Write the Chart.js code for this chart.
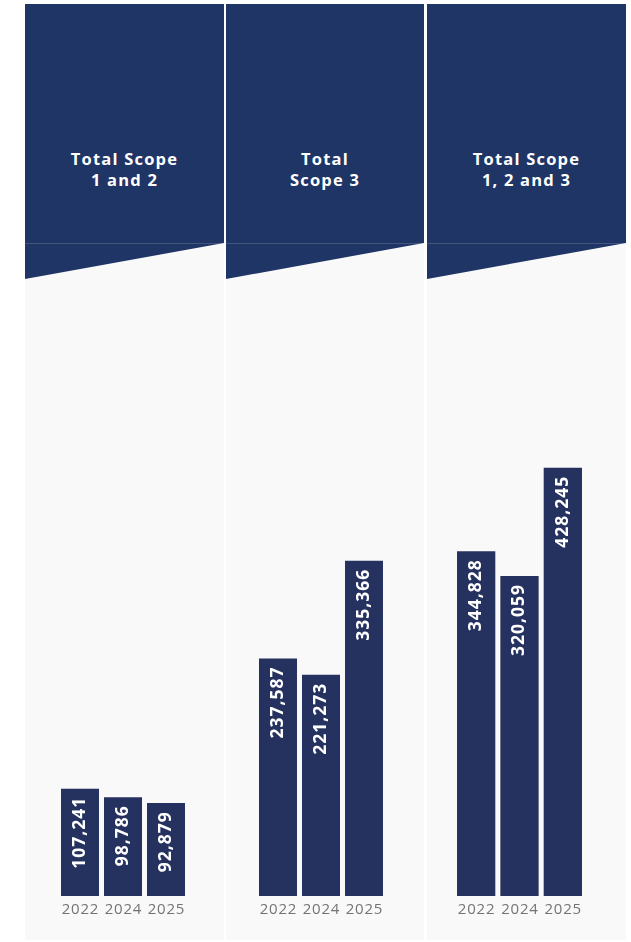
<!DOCTYPE html>
<html>
<head>
<meta charset="utf-8">
<script src="https://cdn.jsdelivr.net/npm/chart.js@4/dist/chart.umd.min.js"></script>
<style>
  body { margin: 0; background: #fff; width: 631px; height: 942px; position: relative; overflow: hidden; font-family: "Open Sans", sans-serif; }
  .panel { position: absolute; top: 4px; height: 936px; background: #f9f9f9; }
  .head { position: absolute; left: 0; top: 0; width: 100%; height: 275px; background: #1f3565;
          clip-path: polygon(0 0, 100% 0, 100% 239px, 0 275px); }
  .rule { position: absolute; left: 0; top: 239px; width: 100%; height: 1px; background: rgba(255,255,255,0.16); }
  .title { position: absolute; top: 144px; width: 100%; text-align: center; color: #fff; font-weight: 700; font-size: 16.5px; line-height: 21px; letter-spacing: 1.2px; }
  canvas { position: absolute; top: -4px; left: 0; }
</style>
</head>
<body>
<script>
const years = ['2022', '2024', '2025'];
const titles = [['Total Scope', '1 and 2'], ['Total', 'Scope 3'], ['Total Scope', '1, 2 and 3']];
const scope12 = [107241, 98786, 92879];
const scope3 = [237587, 221273, 335366];
const scope123 = [344828, 320059, 428245];
const seriesList = [scope12, scope3, scope123];

// panel boxes and where the bars sit inside each one
const panels = [
  { left: 25, width: 199, padL: 33.5, padR: 36.5 },
  { left: 226, width: 198, padL: 30.5, padR: 38.5 },
  { left: 427, width: 199, padL: 27.5, padR: 41.5 }
];

const barColor = '#25315f';

const labelPlugin = {
  id: 'labels',
  afterDatasetsDraw(chart) {
    const ctx = chart.ctx;
    const meta = chart.getDatasetMeta(0);
    const vals = chart.data.datasets[0].data;
    ctx.save();
    meta.data.forEach((bar, i) => {
      ctx.save();
      ctx.translate(bar.x, bar.y + 8);
      ctx.rotate(-Math.PI / 2);
      ctx.fillStyle = '#fff';
      ctx.font = '700 17.5px "Open Sans"';
      ctx.letterSpacing = '1px';
      ctx.textAlign = 'right';
      ctx.textBaseline = 'middle';
      ctx.fillText(vals[i].toLocaleString('en-US'), 0, 0);
      ctx.restore();
    });
    // year labels under the bars
    const x = chart.scales.x;
    ctx.fillStyle = '#737373';
    ctx.font = '15px "Open Sans"';
    ctx.letterSpacing = '0.8px';
    ctx.textAlign = 'center';
    ctx.textBaseline = 'middle';
    chart.data.labels.forEach((lab, i) => {
      ctx.fillText(lab, x.getPixelForValue(i) + 0.4, 910);
    });
    ctx.restore();
  }
};

panels.forEach((p, k) => {
  const div = document.createElement('div');
  div.className = 'panel';
  div.style.left = p.left + 'px';
  div.style.width = p.width + 'px';
  div.innerHTML = '<div class="head"></div><div class="rule"></div>' +
    '<div class="title">' + titles[k].join('<br>') + '</div>';
  const canvas = document.createElement('canvas');
  canvas.width = p.width;
  canvas.height = 942;
  div.appendChild(canvas);
  document.body.appendChild(div);

  new Chart(canvas.getContext('2d'), {
    type: 'bar',
    data: {
      labels: years,
      datasets: [{
        data: seriesList[k],
        backgroundColor: barColor,
        barPercentage: 38 / 43,
        categoryPercentage: 1
      }]
    },
    options: {
      responsive: false,
      animation: false,
      layout: { padding: { left: p.padL, right: p.padR, top: 396, bottom: 46 } },
      plugins: { legend: { display: false }, tooltip: { enabled: false } },
      scales: {
        x: { display: false },
        y: { display: false, min: 0, max: 500000 }
      }
    },
    plugins: [labelPlugin]
  });
});
</script>
</body>
</html>
